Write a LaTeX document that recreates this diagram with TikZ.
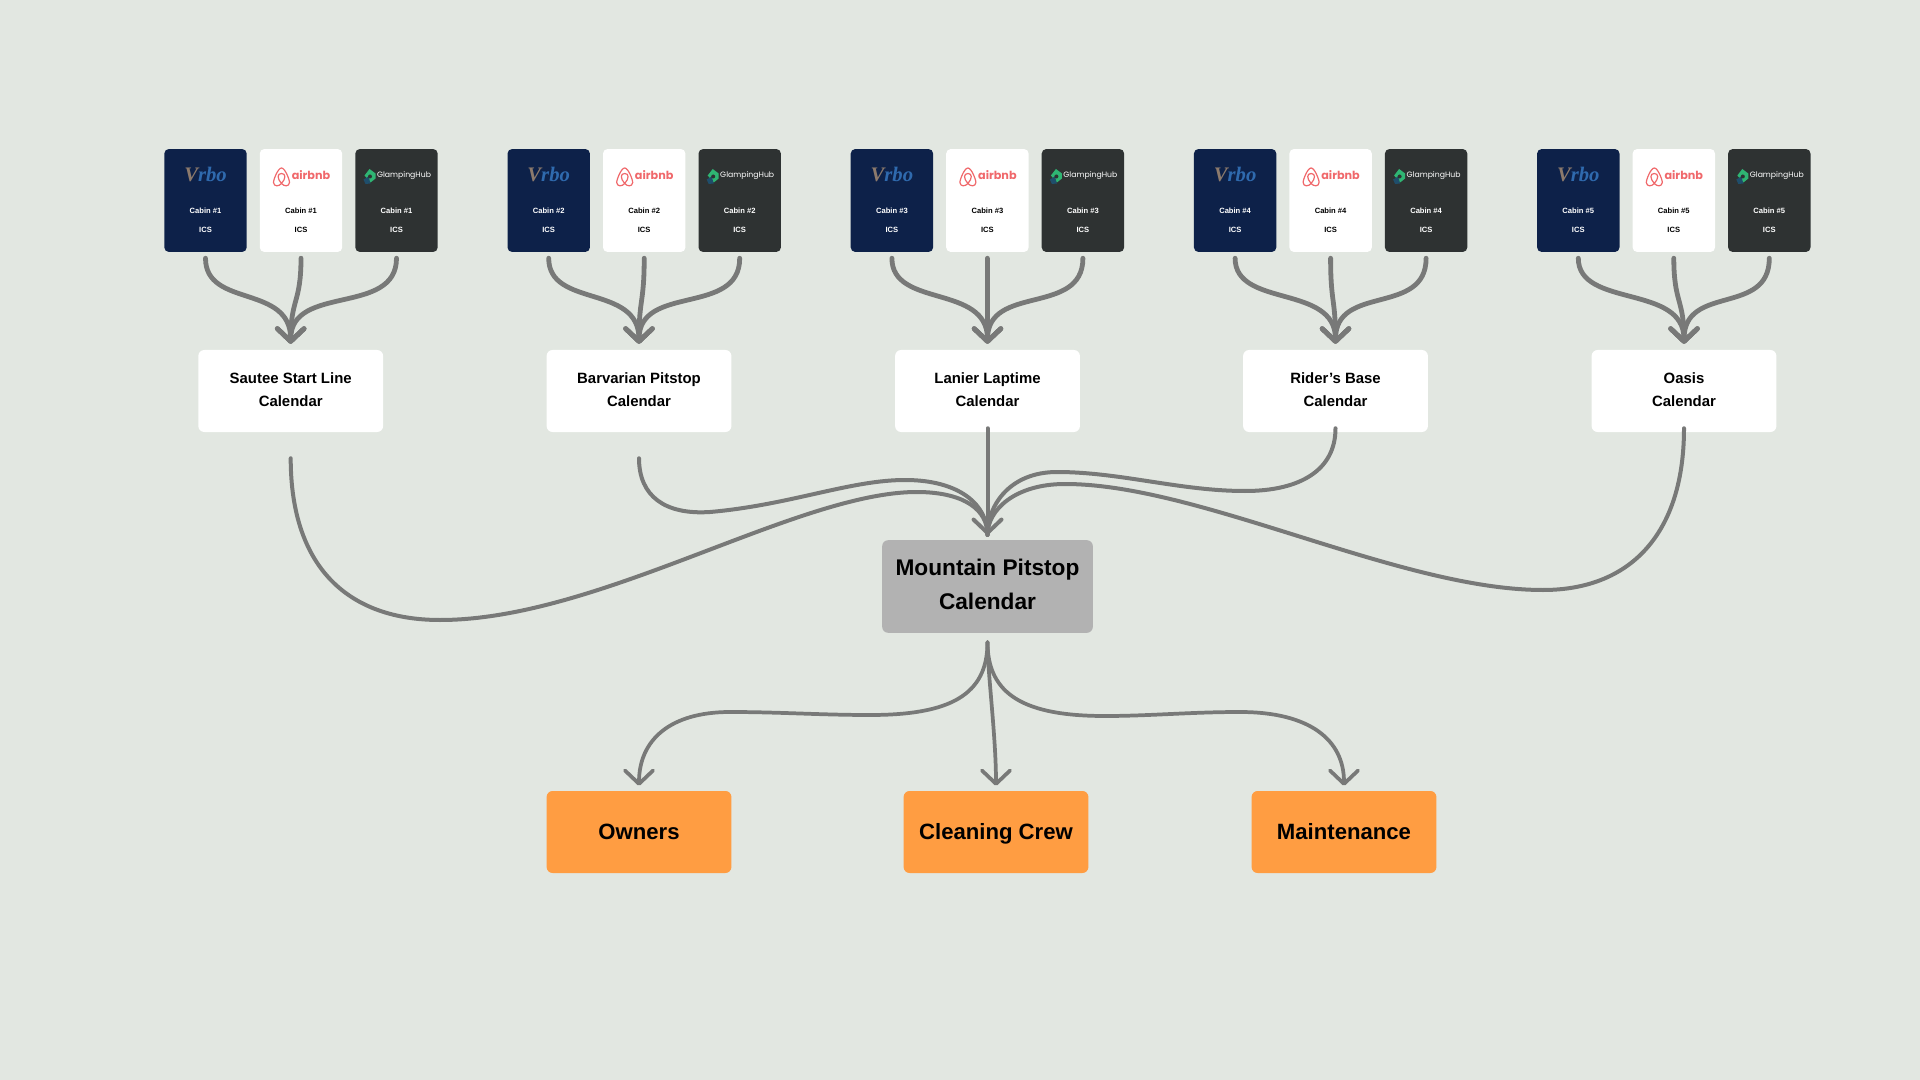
\documentclass[tikz,border=0pt]{standalone}
\usepackage{fontspec}
\setmainfont{Liberation Sans}
\newfontfamily\logofont{Liberation Serif}
\newfontfamily\brandfont{Poppins}
\usetikzlibrary{calc}
\usetikzlibrary{arrows.meta}
\definecolor{pagebg}{HTML}{E2E7E1}
\definecolor{vrboblue}{HTML}{0D2149}
\definecolor{vrbotext}{HTML}{2F6AAE}
\definecolor{vrbotan}{HTML}{8C7A6C}
\definecolor{hubdark}{HTML}{2E3232}
\definecolor{flowgray}{HTML}{787978}
\definecolor{crewpeach}{HTML}{FF9D42}
\definecolor{hubgray}{HTML}{B2B2B2}
\definecolor{airred}{HTML}{F0686B}
\definecolor{hubgreen}{HTML}{2FB573}
\definecolor{hubblue}{HTML}{1F4E6B}
\tikzset{
    cardbox/.style={rounded corners=3.4pt,minimum width=61.8pt,minimum height=77.2pt,inner sep=0pt},
    calbox/.style={rounded corners=4.5pt,fill=white,minimum width=138.6pt,minimum height=61.5pt,inner sep=0pt,align=center,text depth=2.3pt,font=\bfseries\fontsize{11.2}{17.25}\selectfont},
    sinkbox/.style={rounded corners=4.5pt,minimum width=138.6pt,minimum height=61.5pt,inner sep=0pt,fill=crewpeach,text height=12pt,text depth=1.5pt,font=\bfseries\fontsize{16.6}{20}\selectfont},
    flow/.style={draw=flowgray,line width=3.6pt,line cap=round,-{Straight Barb[length=9.5pt,width=20pt,round]}},
    flowmid/.style={draw=flowgray,line width=3pt,line cap=round},
    flowlow/.style={draw=flowgray,line width=2.8pt,line cap=round,-{Straight Barb[length=10pt,width=21pt,round]}},
    smalltext/.style={font=\bfseries\fontsize{5.7}{7}\selectfont}
}
\begin{document}
\begin{tikzpicture}[x=0.75pt,y=-0.75pt]
    \useasboundingbox[fill=pagebg] (0,0) rectangle (1920,1080);

    % cabin cards
    \foreach \i/\sx in {1/205.5,2/548.7,3/891.9,4/1235.1,5/1578.3} {
        \node[cardbox,fill=vrboblue] (v\i) at (\sx,200.5) {};
        \node[cardbox,fill=white] (a\i) at ($(\sx,200.5)+(95.5,0)$) {};
        \node[cardbox,fill=hubdark] (g\i) at ($(\sx,200.5)+(191,0)$) {};

        \node[text=white,smalltext] (vc\i) at ($(v\i.center)+(0,10)$) {Cabin \#\i};
        \node[text=white,smalltext] (vi\i) at ($(v\i.center)+(0,29.5)$) {ICS};
        \node[text=black,smalltext] (ac\i) at ($(a\i.center)+(0,10)$) {Cabin \#\i};
        \node[text=black,smalltext] (ai\i) at ($(a\i.center)+(0,29.5)$) {ICS};
        \node[text=white,smalltext] (gc\i) at ($(g\i.center)+(0,10)$) {Cabin \#\i};
        \node[text=white,smalltext] (gi\i) at ($(g\i.center)+(0,29.5)$) {ICS};

        % logos
        \node[text=vrbotext,inner sep=0pt,font=\logofont\bfseries\itshape\fontsize{15.5}{16}\selectfont] (vl\i) at ($(v\i.center)+(0,-26)$) {\textcolor{vrbotan}{V}rbo};
        \node[text=airred,inner sep=0pt,font=\brandfont\bfseries\fontsize{8.4}{10}\selectfont] (al\i) at ($(a\i.center)+(10,-25)$) {airbnb};
        \begin{scope}[shift={(a\i.center)},airred,line width=0.9pt,line join=round]
            \draw (-19.5,-17) .. controls (-17,-14) and (-12,-13.5) .. (-11.5,-18)
                .. controls (-11.5,-21) and (-16,-32.5) .. (-19.5,-32.5)
                .. controls (-23,-32.5) and (-27.5,-21) .. (-27.5,-18)
                .. controls (-27,-13.5) and (-22,-14) .. cycle;
            \draw (-19.5,-17) .. controls (-24,-22) and (-24,-27) .. (-19.5,-27)
                .. controls (-15,-27) and (-15,-22) .. cycle;
        \end{scope}
        \node[text=white,inner sep=0pt,font=\brandfont\fontsize{5.8}{7}\selectfont] (gl\i) at ($(g\i.center)+(7.5,-25)$) {GlampingHub};
        \begin{scope}[shift={(g\i.center)}]
            \fill[hubgreen] (-26,-18) -- (-21,-22) -- (-21,-27) -- (-27,-31.5) -- (-32,-25) -- cycle;
            \fill[hubblue] (-33,-21) -- (-28,-24) -- (-26,-17) -- (-31,-16.5) -- cycle;
            \fill[hubdark] (-26.5,-24) circle (2);
        \end{scope}
    }

    % calendars
    \node[calbox] (cal1) at (290.7,391) {Sautee Start Line\\Calendar};
    \node[calbox] (cal2) at (639,391) {Barvarian Pitstop\\Calendar};
    \node[calbox] (cal3) at (987.5,391) {Lanier Laptime\\Calendar};
    \node[calbox] (cal4) at (1335.5,391) {Rider's Base\\Calendar};
    \node[calbox] (cal5) at (1684,391) {Oasis\\Calendar};

    % main calendar
    \node[rounded corners=4.5pt,fill=hubgray,minimum width=158pt,minimum height=69.5pt,inner sep=0pt,align=center,text depth=3.6pt,font=\bfseries\fontsize{17}{25.5}\selectfont] (main) at (987.5,586.5) {Mountain Pitstop\\Calendar};

    % people
    \node[sinkbox] (own) at (639,832) {Owners};
    \node[sinkbox] (crew) at (996,832) {Cleaning Crew};
    \node[sinkbox] (maint) at (1344,832) {Maintenance};

    % cards to calendars
    \foreach \i in {1,...,5} {
        \coordinate (tip\i) at ($(cal\i.north)+(0,-6)$);
        \draw[flow] ($(v\i.south)+(0,6)$) .. controls +(0,50) and +(0,-60) .. (tip\i);
        \draw[flow] ($(a\i.south)+(0,6)$) .. controls +(0,45) and +(0,-45) .. (tip\i);
        \draw[flow] ($(g\i.south)+(0,6)$) .. controls +(0,58) and +(0,-60) .. (tip\i);
    }

    % calendars to main calendar
    \coordinate (maintip) at ($(main.north)+(0,-5)$);
    \draw[flowmid] ($(cal1.south)+(0,26)$) .. controls +(0,111) and (350,620) .. (440,620)
        .. controls (600,620) and (800,490) .. (920,492)
        .. controls (965,493) and (987.5,510) .. (maintip);
    \draw[flowmid] ($(cal2.south)+(0,26)$) .. controls +(0,38) and (665,515) .. (710,512)
        .. controls (790,505) and (850,480) .. (905,480)
        .. controls (960,480) and (987.5,505) .. (maintip);
    \draw[flowmid] ($(cal4.south)+(0,-4)$) .. controls +(0,42) and (1300,491) .. (1245,491)
        .. controls (1180,491) and (1120,472) .. (1057,472)
        .. controls (1010,472) and (987.5,505) .. (maintip);
    \draw[flowmid] ($(cal5.south)+(0,-4)$) .. controls +(0,106) and (1630,590) .. (1543,590)
        .. controls (1400,590) and (1200,484) .. (1065,484)
        .. controls (1015,484) and (987.5,510) .. (maintip);
    \draw[flowmid,-{Straight Barb[length=10pt,width=21pt,round]}] ($(cal3.south)+(0,-4)$) -- (maintip);

    % main calendar to people
    \coordinate (out) at ($(main.south)+(0,9)$);
    \draw[flowlow] (out) .. controls +(0,53) and (950,715) .. (870,715)
        .. controls (820,715) and (780,712) .. (730,712)
        .. controls (670,712) and (639,740) .. ($(own.north)+(0,-5)$);
    \draw[flowlow] (out) .. controls +(0,30) and +(0,-50) .. ($(crew.north)+(0,-5)$);
    \draw[flowlow] (out) .. controls +(0,53) and (1025,716) .. (1105,716)
        .. controls (1150,716) and (1190,712) .. (1240,712)
        .. controls (1310,712) and (1344,740) .. ($(maint.north)+(0,-5)$);
\end{tikzpicture}
\end{document}
